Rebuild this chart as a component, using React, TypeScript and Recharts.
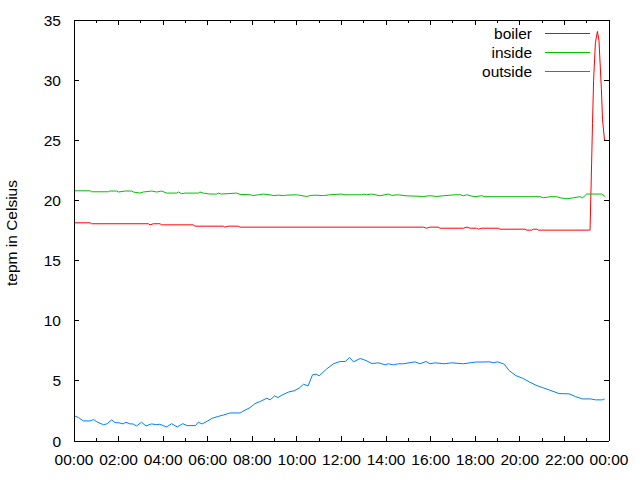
import { LineChart, Line, XAxis, YAxis, Legend } from 'recharts';

const FONT = '"Liberation Sans", Arial, sans-serif';

// hours of day (0..24) and readings in Celsius
const boilerHours = [
    0, 0.72, 0.79, 3.34, 3.41, 3.56, 3.86, 3.93, 5.35, 5.43, 6.7, 6.77, 6.92, 7.37, 7.45,
    15.67, 15.82, 15.97, 16.34, 16.42, 17.47, 17.62, 17.77, 18.06, 18.14, 18.29, 19.03, 19.11,
    20.23, 20.31, 20.53, 20.61, 20.76, 20.83, 23.07, 23.15, 23.22, 23.26, 23.31, 23.39, 23.48,
    23.55, 23.66, 23.71, 23.8, 23.89,
];
const boilerTemps = [
    18.14, 18.14, 18.06, 18.06, 17.97, 18.06, 18.06, 17.97, 17.97, 17.86, 17.86, 17.78, 17.86, 17.86, 17.78,
    17.78, 17.69, 17.78, 17.78, 17.69, 17.69, 17.78, 17.69, 17.69, 17.61, 17.69, 17.69, 17.61,
    17.61, 17.53, 17.53, 17.61, 17.61, 17.53, 17.53, 17.53, 23.1, 26.4, 30.0, 33.1, 34.05,
    33.3, 29.2, 26.7, 25.0, 25.0,
];

const insideHours = [
    0, 0.72, 0.79, 1.54, 1.61, 1.91, 1.99, 2.29, 2.59, 2.66, 2.96, 3.11, 3.48, 3.71, 3.93, 4.16,
    4.61, 4.68, 4.83, 4.98, 5.58, 5.65, 5.8, 6.1, 6.4, 6.47, 6.62, 7.3, 7.45, 7.9, 8.04, 8.27,
    8.49, 8.79, 8.94, 9.17, 9.39, 9.54, 9.99, 10.44, 10.59, 10.81, 11.19, 11.48, 12.01, 12.16,
    12.91, 12.98, 13.13, 13.35, 13.73, 13.95, 14.1, 14.25, 14.55, 14.85, 15.67, 15.97, 16.27,
    16.57, 17.09, 17.32, 17.47, 17.62, 17.77, 17.99, 18.29, 18.44, 20.91, 21.06, 21.36, 21.66,
    21.81, 22.11, 22.41, 22.7, 22.82, 23.0, 23.67, 23.82,
];
const insideTemps = [
    20.8, 20.8, 20.72, 20.72, 20.78, 20.78, 20.7, 20.78, 20.78, 20.7, 20.61, 20.7, 20.78, 20.7, 20.78, 20.61,
    20.61, 20.7, 20.56, 20.61, 20.61, 20.7, 20.61, 20.53, 20.53, 20.61, 20.53, 20.61, 20.5, 20.47, 20.4, 20.47,
    20.53, 20.47, 20.4, 20.44, 20.4, 20.44, 20.47, 20.33, 20.4, 20.44, 20.4, 20.47, 20.53, 20.47,
    20.47, 20.53, 20.47, 20.53, 20.39, 20.47, 20.53, 20.42, 20.47, 20.39, 20.33, 20.39, 20.33,
    20.39, 20.47, 20.47, 20.39, 20.47, 20.39, 20.31, 20.39, 20.31, 20.31, 20.22, 20.31, 20.31,
    20.22, 20.14, 20.22, 20.31, 20.22, 20.53, 20.53, 20.33,
];

const outsideHours = [
    0, 0.2, 0.42, 0.72, 0.87, 1.02, 1.17, 1.32, 1.47, 1.69, 1.84, 2.06, 2.2, 2.33, 2.51, 2.65,
    2.8, 3.03, 3.23, 3.48, 3.7, 3.85, 4.0, 4.16, 4.38, 4.63, 4.88, 5.07, 5.45, 5.57, 5.75, 6.0,
    6.2, 6.5, 6.72, 7.0, 7.45, 7.67, 7.9, 8.12, 8.35, 8.65, 8.8, 9.0, 9.15, 9.34, 9.64, 9.87,
    10.1, 10.3, 10.5, 10.7, 10.86, 11.0, 11.34, 11.64, 11.94, 12.17, 12.36, 12.54, 12.84, 13.1,
    13.36, 13.66, 13.96, 14.1, 14.33, 14.55, 14.78, 15.3, 15.52, 15.79, 15.97, 16.2, 16.6, 16.95,
    17.47, 18.0, 18.66, 18.81, 19.0, 19.3, 19.52, 19.82, 20.12, 20.42, 20.72, 21.01, 21.31, 21.76,
    22.21, 22.5, 22.8, 23.17, 23.4, 23.7, 23.8,
];
const outsideTemps = [
    2.1, 1.95, 1.67, 1.67, 1.78, 1.61, 1.47, 1.36, 1.42, 1.75, 1.53, 1.5, 1.42, 1.56, 1.42, 1.42,
    1.25, 1.56, 1.25, 1.42, 1.36, 1.39, 1.28, 1.17, 1.44, 1.17, 1.44, 1.28, 1.28, 1.56, 1.42, 1.67,
    1.89, 2.06, 2.17, 2.33, 2.33, 2.56, 2.78, 3.11, 3.28, 3.56, 3.42, 3.75, 3.61, 3.83, 4.08, 4.17,
    4.39, 4.72, 4.58, 5.5, 5.56, 5.42, 6.0, 6.42, 6.61, 6.61, 6.94, 6.58, 6.86, 6.69,
    6.44, 6.5, 6.33, 6.42, 6.33, 6.42, 6.42, 6.58, 6.42, 6.61, 6.42, 6.5, 6.42, 6.5,
    6.42, 6.56, 6.58, 6.5, 6.58, 6.39, 5.86, 5.44, 5.22, 4.92, 4.64, 4.44, 4.25, 3.94,
    3.92, 3.69, 3.5, 3.5, 3.42, 3.42, 3.5,
];

const xTicks = [0, 1, 2, 3, 4, 5, 6, 7, 8, 9, 10, 11, 12, 13, 14, 15, 16, 17, 18, 19, 20, 21, 22, 23, 24];
const yTicks = [0, 5, 10, 15, 20, 25, 30, 35];

const series = [
    { name: 'boiler', color: '#ff0000', hours: boilerHours, temps: boilerTemps },
    { name: 'inside', color: '#00c000', hours: insideHours, temps: insideTemps },
    { name: 'outside', color: '#0080ff', hours: outsideHours, temps: outsideTemps },
];

const hourLabel = (h: number) => `${String(h % 24).padStart(2, '0')}:00`;

// gnuplot style: ticks point into the plot, labels only on even hours
const BottomTick = ({ x, y, payload }: any) => {
    const major = payload.value % 2 === 0;
    return (
        <g>
            <line x1={x} y1={y} x2={x} y2={y - (major ? 5 : 3)} stroke="#000" shapeRendering="crispEdges" />
            {major && (
                <text x={x} y={y + 24} textAnchor="middle" fontSize={15.5} fontFamily={FONT} fill="#000">
                    {hourLabel(payload.value)}
                </text>
            )}
        </g>
    );
};

const TopTick = ({ x, y, payload }: any) => {
    const major = payload.value % 2 === 0;
    return <line x1={x} y1={y} x2={x} y2={y + (major ? 5 : 3)} stroke="#000" shapeRendering="crispEdges" />;
};

const LeftTick = ({ x, y, payload }: any) => (
    <g>
        <line x1={x} y1={y} x2={x + 5} y2={y} stroke="#000" shapeRendering="crispEdges" />
        <text x={x - 13} y={y + 5.5} textAnchor="end" fontSize={15.5} fontFamily={FONT} fill="#000">
            {payload.value}
        </text>
    </g>
);

const RightTick = ({ x, y }: any) => (
    <line x1={x} y1={y} x2={x - 5} y2={y} stroke="#000" shapeRendering="crispEdges" />
);

const YTitle = ({ viewBox }: any) => {
    const cx = viewBox.x + 16.5;
    const cy = viewBox.y + viewBox.height / 2 + 2.5;
    return (
        <text x={cx} y={cy} transform={`rotate(-90 ${cx} ${cy})`} textAnchor="middle" fontSize={15.5} fontFamily={FONT} fill="#000">
            tepm in Celsius
        </text>
    );
};

const KeyBox = ({ payload }: any) => (
    <svg width={640} height={90}>
        {(payload || []).map((p: any, i: number) => (
            <g key={p.value}>
                <text x={532} y={39 + i * 19} textAnchor="end" fontSize={15.5} fontFamily={FONT} fill="#000">
                    {p.value}
                </text>
                <line x1={545} y1={33.5 + i * 19} x2={590} y2={33.5 + i * 19} stroke={p.color} shapeRendering="crispEdges" />
            </g>
        ))}
    </svg>
);

export default function App() {
    return (
        <div style={{ position: 'absolute', left: 0, top: 0, width: 640, height: 480, background: '#fff' }}>
            <LineChart width={640} height={480} margin={{ top: 0, right: 0, bottom: 0, left: 0 }}>
                <XAxis
                    dataKey="h"
                    type="number"
                    domain={[0, 24]}
                    ticks={xTicks}
                    interval={0}
                    height={39}
                    tickSize={0}
                    tickMargin={0}
                    tick={<BottomTick />}
                    axisLine={{ stroke: '#000', shapeRendering: 'crispEdges' }}
                    allowDataOverflow
                />
                <XAxis
                    xAxisId="top"
                    orientation="top"
                    dataKey="h"
                    type="number"
                    domain={[0, 24]}
                    ticks={xTicks}
                    interval={0}
                    height={20}
                    tickSize={0}
                    tickMargin={0}
                    tick={<TopTick />}
                    axisLine={{ stroke: '#000', shapeRendering: 'crispEdges' }}
                    allowDataOverflow
                />
                <YAxis
                    type="number"
                    domain={[0, 35]}
                    ticks={yTicks}
                    interval={0}
                    width={74}
                    tickSize={0}
                    tickMargin={0}
                    tick={<LeftTick />}
                    axisLine={{ stroke: '#000', shapeRendering: 'crispEdges' }}
                    label={{ content: <YTitle /> }}
                    allowDataOverflow
                />
                <YAxis
                    yAxisId="right"
                    orientation="right"
                    type="number"
                    domain={[0, 35]}
                    ticks={yTicks}
                    interval={0}
                    width={31}
                    tickSize={0}
                    tickMargin={0}
                    tick={<RightTick />}
                    axisLine={{ stroke: '#000', shapeRendering: 'crispEdges' }}
                    allowDataOverflow
                />
                <Legend
                    layout="vertical"
                    align="center"
                    verticalAlign="middle"
                    wrapperStyle={{ left: 0, top: 0, width: 640, height: 90 }}
                    content={<KeyBox />}
                />
                {series.map((s) => (
                    <Line
                        key={s.name}
                        name={s.name}
                        data={s.hours.map((h, i) => ({ h, v: s.temps[i] }))}
                        dataKey="v"
                        type="linear"
                        stroke={s.color}
                        strokeWidth={1}
                        dot={false}
                        activeDot={false}
                        isAnimationActive={false}
                    />
                ))}
            </LineChart>
        </div>
    );
}
